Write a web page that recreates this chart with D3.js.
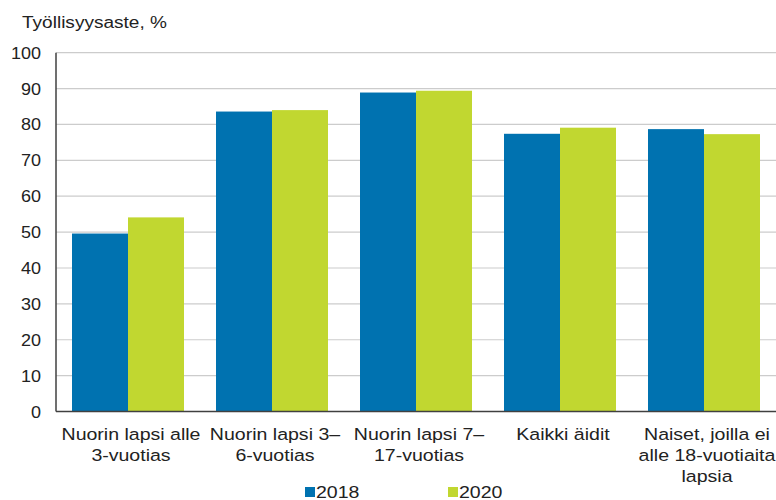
<!DOCTYPE html>
<html>
<head>
<meta charset="utf-8">
<script src="https://cdn.jsdelivr.net/npm/d3@7"></script>
<style>
  body { margin: 0; background: #fff; }
  svg text { font-family: "Liberation Sans", Arial, sans-serif; fill: #222; }
</style>
</head>
<body>
<svg class="svg-graphic"></svg>
<script>
var categories = ['Nuorin lapsi alle\n3-vuotias', 'Nuorin lapsi 3–\n6-vuotias', 'Nuorin lapsi 7–\n17-vuotias', 'Kaikki äidit', 'Naiset, joilla ei\nalle 18-vuotiaita\nlapsia'];
var seriesNames = ['2018', '2020'];
var values2018 = [49.6, 83.6, 88.9, 77.4, 78.7];
var values2020 = [54.1, 84.0, 89.4, 79.1, 77.3];
var yTicks = [0, 10, 20, 30, 40, 50, 60, 70, 80, 90, 100];

var width = 776, height = 500;
var margin = { top: 53, left: 56, bottom: 89, right: 0 };
var colors = ['#0072b0', '#c1d730'];

var svg = d3.select('.svg-graphic')
    .attr('width', width)
    .attr('height', height);

// text in the original is a bit wider than Arial, so stretch it sideways
function addText(px, py, sx, size, anchor) {
    return svg.append('text')
        .attr('transform', 'translate(' + px + ',' + py + ') scale(' + sx + ',1)')
        .attr('text-anchor', anchor)
        .style('font-size', size + 'px');
}

var x = d3.scaleBand()
    .domain(categories)
    .range([margin.left, width - margin.right])
    .paddingInner(32 / 144)
    .paddingOuter(16 / 144);

var x1 = d3.scaleBand()
    .domain(seriesNames)
    .range([0, x.bandwidth()]);

var y = d3.scaleLinear()
    .domain([0, 100])
    .range([height - margin.bottom + 0.5, margin.top - 0.3]);

// gridlines
svg.append('g')
    .selectAll('line')
    .data(yTicks.slice(1))
    .enter().append('line')
        .attr('x1', margin.left).attr('x2', width)
        .attr('y1', function(d){ return y(d); })
        .attr('y2', function(d){ return y(d); })
        .attr('stroke', '#cccccc')
        .attr('stroke-width', 1.2);

// y tick labels
yTicks.forEach(function(t) {
    addText(41, y(t) + 6, 1.06, 17, 'end').text(t);
});

// bars
var series = [values2018, values2020];
series.forEach(function(vals, s) {
    svg.append('g')
        .selectAll('rect')
        .data(vals)
        .enter().append('rect')
            .attr('x', function(d, i){ return x(categories[i]) + x1(seriesNames[s]); })
            .attr('y', function(d){ return y(d); })
            .attr('width', x1.bandwidth())
            .attr('height', function(d){ return y(0) - y(d); })
            .attr('fill', colors[s]);
});

// axes lines
svg.append('line')
    .attr('x1', margin.left).attr('x2', margin.left)
    .attr('y1', y(100)).attr('y2', y(0))
    .attr('stroke', '#404040').attr('stroke-width', 1.5);
svg.append('line')
    .attr('x1', margin.left).attr('x2', width)
    .attr('y1', y(0)).attr('y2', y(0))
    .attr('stroke', '#404040').attr('stroke-width', 1.5);

// category labels
categories.forEach(function(c) {
    var t = addText(x(c) + x.bandwidth() / 2 + 3, 440, 1.15, 17, 'middle');
    c.split('\n').forEach(function(line, j) {
        t.append('tspan')
            .attr('x', 0)
            .attr('dy', j === 0 ? 0 : 21)
            .text(line);
    });
});

// title
addText(22, 28, 1.19, 16, 'start').text('Työllisyysaste, %');

// legend
var legendX = [305, 448];
seriesNames.forEach(function(n, s) {
    svg.append('rect')
        .attr('x', legendX[s]).attr('y', 487)
        .attr('width', 10).attr('height', 10)
        .attr('fill', colors[s]);
    addText(legendX[s] + 11, 498, 1.15, 17, 'start').text(n);
});
</script>
</body>
</html>
